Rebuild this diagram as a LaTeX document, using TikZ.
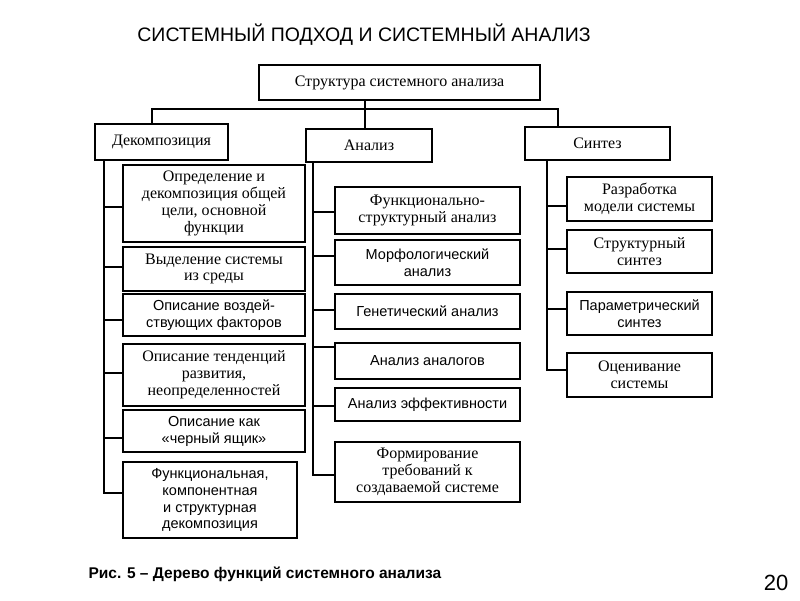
\documentclass[tikz,border=0pt]{standalone}
\usepackage{fontspec}
\setmainfont{Liberation Serif}
\newfontfamily\sansf{Liberation Sans}
\begin{document}
\begin{tikzpicture}[x=1pt,y=-1pt,
  box/.style={draw,line width=1.3pt,align=center,inner sep=1pt,
    font=\fontsize{16}{16.9}\selectfont},
  sbox/.style={box,font=\sansf\fontsize{14.5}{16.9}\selectfont},
  ln/.style={line width=1.1pt},
  thk/.style={line width=2.2pt}]
\useasboundingbox (0,0) rectangle (800,600);
% title
\node[font=\sansf\fontsize{19.5}{22}\selectfont] (title) at (364,35) {СИСТЕМНЫЙ ПОДХОД И СИСТЕМНЫЙ АНАЛИЗ};
% top level
\node[box,minimum width=281,minimum height=35] (top) at (399.5,82.5) {Структура системного анализа};
\node[box,minimum width=133,minimum height=36] (dec) at (161.5,142) {Декомпозиция};
\node[box,minimum width=126,minimum height=33] (an) at (369,145.5) {Анализ};
\node[box,minimum width=145,minimum height=33] (syn) at (597.5,143.5) {Синтез};
\coordinate (tc) at (365,100);
\coordinate (hy) at (365,109);
\draw[ln] (tc) -- (hy);
\draw[ln] (dec.north -| 152,0) -- (152,109) -- (558,109) -- (syn.north -| 558,0);
\draw[ln] (hy) -- (an.north -| hy);
% left column
\node[box,minimum width=182,minimum height=77] (L1) at (214,203.5) {Определение и\\декомпозиция общей\\цели, основной\\функции};
\node[box,minimum width=182,minimum height=44] (L2) at (214,269) {Выделение системы\\из среды};
\node[sbox,minimum width=182,minimum height=42] (L3) at (214,315) {Описание воздей-\\ствующих факторов};
\node[box,minimum width=182,minimum height=62] (L4) at (214,375) {Описание тенденций\\развития,\\неопределенностей};
\node[sbox,minimum width=182,minimum height=42] (L5) at (214,431) {Описание как\\«черный ящик»};
\node[sbox,minimum width=174,minimum height=76] (L6) at (210,500) {Функциональная,\\компонентная\\и структурная\\декомпозиция};
\coordinate (lt) at (104,160);
\coordinate (lb) at (104,493);
\draw[ln] (lt) -- (lb) -- (lb -| L6.west);
\foreach \n/\y in {L1/207,L2/267,L3/320,L4/373,L5/438}{
  \coordinate (c\n) at (104,\y);
  \draw[ln] (c\n) -- (c\n -| \n.west);
}
% middle column
\node[box,minimum width=185,minimum height=47] (M1) at (427.5,210.5) {Функционально-\\структурный анализ};
\node[sbox,minimum width=185,minimum height=45] (M2) at (427.5,262.5) {Морфологический\\анализ};
\node[sbox,minimum width=185,minimum height=35] (M3) at (427.5,311.5) {Генетический анализ};
\node[sbox,minimum width=185,minimum height=36] (M4) at (427.5,361) {Анализ аналогов};
\node[sbox,minimum width=185,minimum height=33] (M5) at (427.5,404.5) {Анализ эффективности};
\node[box,minimum width=185,minimum height=60] (M6) at (427.5,472) {Формирование\\требований к\\создаваемой системе};
\coordinate (mt) at (313,162);
\coordinate (mb) at (313,475);
\draw[thk] (mt) -- (mb) -- (mb -| M6.west);
\foreach \n/\y in {M1/212,M2/256,M3/310,M4/347,M5/406}{
  \coordinate (c\n) at (313,\y);
  \draw[ln] (c\n) -- (c\n -| \n.west);
}
% right column
\node[box,minimum width=145,minimum height=44] (R1) at (639.5,199) {Разработка\\модели системы};
\node[box,minimum width=145,minimum height=43] (R2) at (639.5,251.5) {Структурный\\синтез};
\node[sbox,minimum width=145,minimum height=43] (R3) at (639.5,313.5) {Параметрический\\синтез};
\node[box,minimum width=145,minimum height=44] (R4) at (639.5,375) {Оценивание\\системы};
\coordinate (rt) at (547,160);
\coordinate (rb) at (547,370);
\draw[ln] (rt) -- (rb) -- (rb -| R4.west);
\foreach \n/\y in {R1/206,R2/249,R3/309}{
  \coordinate (c\n) at (547,\y);
  \draw[ln] (c\n) -- (c\n -| \n.west);
}
% caption
\node[anchor=west,font=\sansf\bfseries\fontsize{15.5}{18}\selectfont] (cap) at (85,574) {Рис. 5 – Дерево функций системного анализа};
\node[font=\sansf\fontsize{22}{26}\selectfont] (pg) at (776,583) {20};
\end{tikzpicture}
\end{document}
